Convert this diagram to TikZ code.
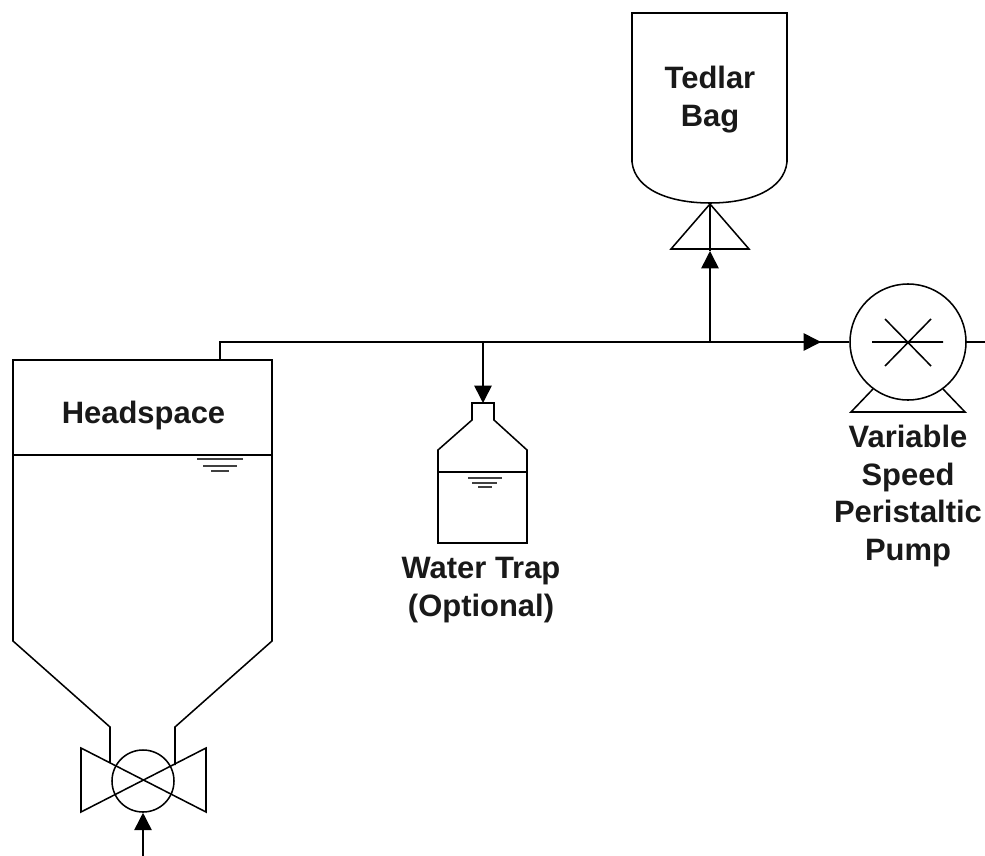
\documentclass[tikz,border=0pt]{standalone}
\usepackage{fontspec}
\setmainfont{Liberation Sans}
\usetikzlibrary{arrows.meta,calc}
\tikzset{
  px/.style={x=0.75pt,y=-0.75pt},
  ln/.style={draw=black,line width=1.15pt,line join=miter},
  flow/.style={ln,-{Triangle[length=13pt,width=13pt]}},
  lab/.style={font=\bfseries\fontsize{23.2}{28.1}\selectfont,align=center,inner sep=0pt,text=black!90},
  level/.style={draw=black!75,line width=1pt},
  round part/.style={circle,ln,minimum size=#1*0.75pt,inner sep=0pt,fill=white}
}
\begin{document}
\begin{tikzpicture}[px]
\useasboundingbox[fill=white] (0,0) rectangle (985,856);
% anchor points
\coordinate (tankTap) at (220,360);
\coordinate (corner) at (220,342);
\coordinate (trapTee) at (483,342);
\coordinate (trapIn) at (483,403);
\coordinate (bagTee) at (710,342);
\coordinate (bagIn) at (710,251);
\coordinate (bagTop) at (710,203);
\coordinate (pumpTip) at (821,342);
\coordinate (exitEnd) at (985,342);
\coordinate (feedEnd) at (143,856);
% headspace tank
\draw[ln] (110,763) -- (110,727) -- (13,641) -- (13,360) -- (272,360) -- (272,641) -- (175,727) -- (175,765);
\draw[ln] (13,455) -- (272,455);
\draw[level] (197,459) -- (243,459) (203,466) -- (237,466) (211,471) -- (229,471);
\node[lab] (headspace) at (143.5,415.5) {Headspace};
% valve
\node[round part=62] (valve) at (143,781) {};
\draw[ln] (81,748) -- (206,812) -- (206,748) -- (81,812) -- cycle;
% tedlar bag
\draw[ln] (710,203) .. controls (670,203) and (635,190) .. (632,162) -- (632,13) -- (787,13) -- (787,162) .. controls (784,190) and (750,203) .. (710,203);
\draw[ln] (671,249) -- (710,204) -- (749,249) -- cycle;
\node[lab] (bag) at (710,99.5) {Tedlar\\Bag};
% water trap
\draw[ln] (472,403) -- (494,403) -- (494,420) -- (527,450) -- (527,543) -- (438,543) -- (438,450) -- (472,420) -- cycle;
\draw[ln] (438,472) -- (527,472);
\draw[level] (468,478) -- (502,478) (472,483) -- (497,483) (478,487) -- (492,487);
\node[lab] (trap) at (481,590) {Water Trap\\(Optional)};
% pump
\draw[ln] (873,389) -- (851,412) -- (965,412) -- (943,389);
\node[round part=116] (pump) at (908,342) {};
\draw[ln] (872,342) -- (943,342) (885,319) -- (931,366) (931,319) -- (885,366);
\node[lab] (pumplabel) at (908,496) {Variable\\Speed\\Peristaltic\\Pump};
% connectors
\draw[ln] (tankTap) -- (corner) -- (pump.west);
\draw[flow] (trapTee) -- (trapIn);
\draw[flow] (bagTee) -- (bagIn);
\draw[ln] (bagIn) -- (bagTop);
\draw[flow] (bagTee) -- (pumpTip);
\draw[ln] (pump.east) -- (exitEnd);
\draw[flow] (feedEnd) -- (valve.south);
\end{tikzpicture}
\end{document}
